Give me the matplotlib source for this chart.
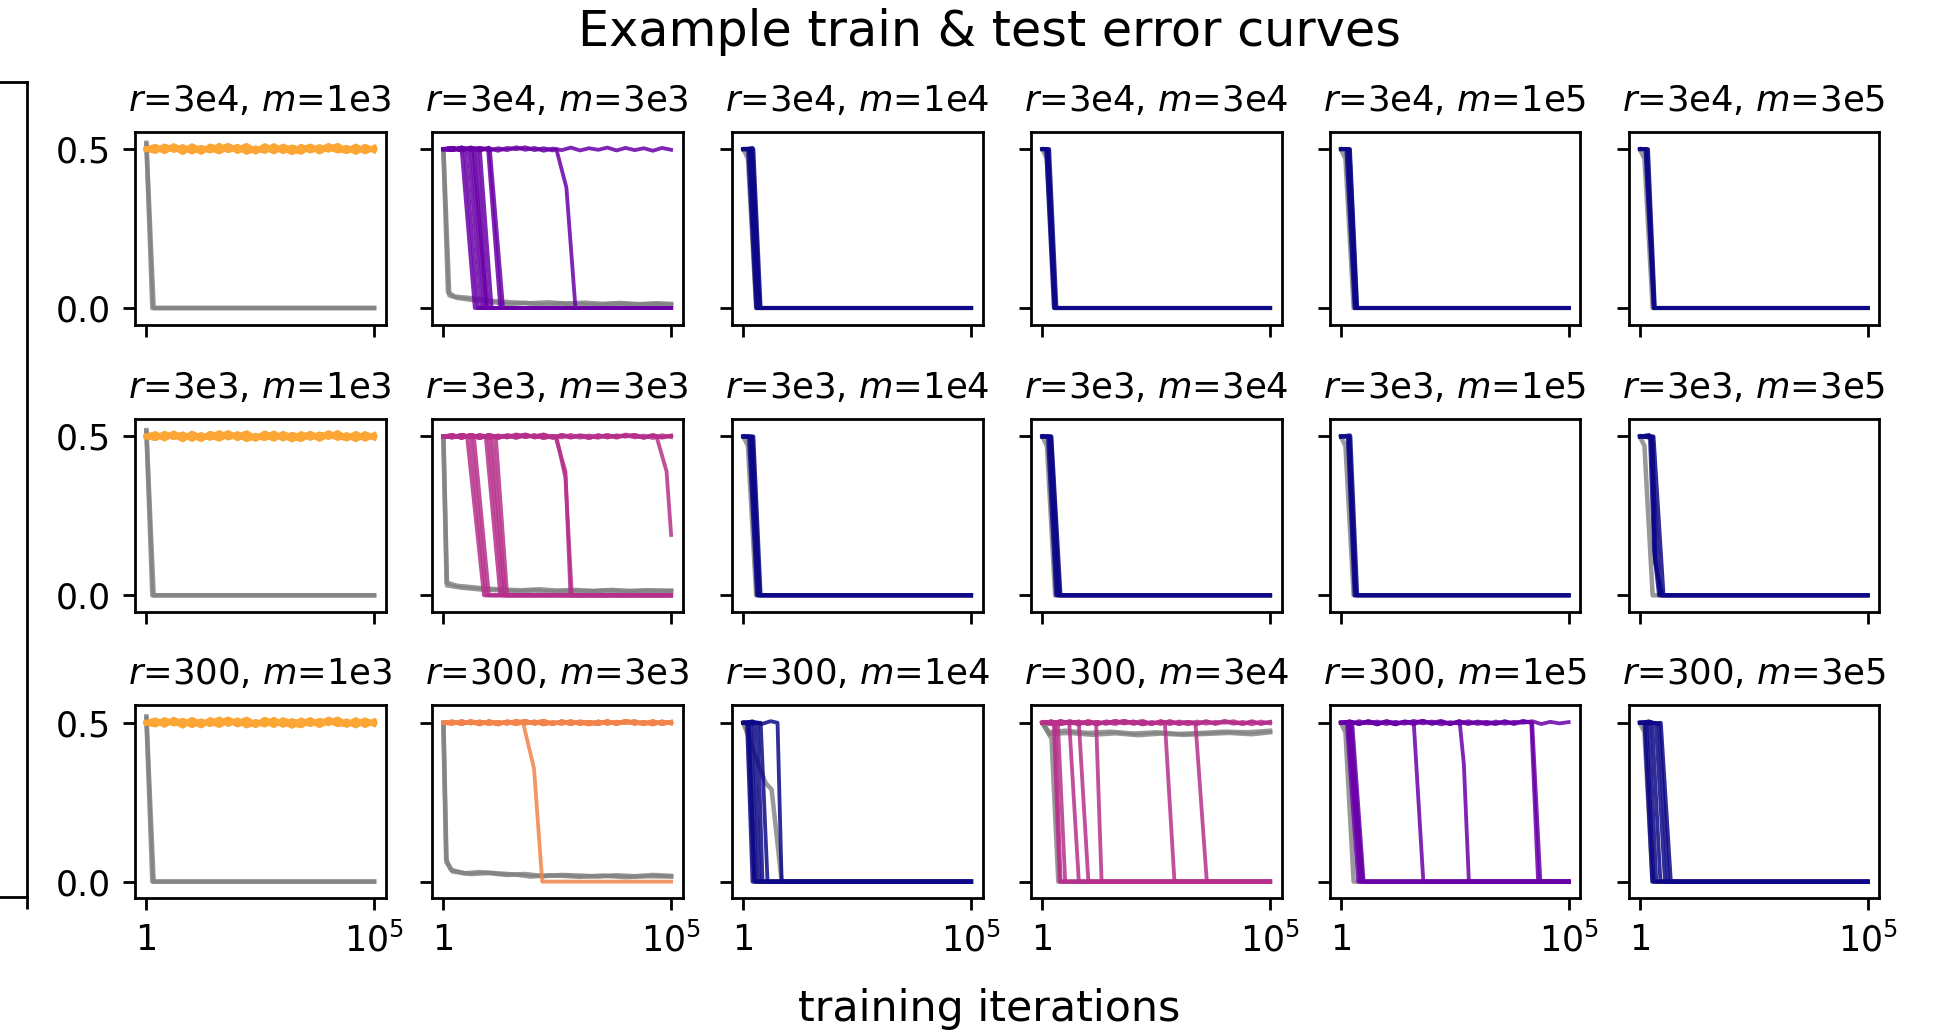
import numpy as np
import matplotlib.pyplot as plt

# run grid: rows are r, columns are m
r_labels = ["3e4", "3e3", "300"]
m_labels = ["1e3", "3e3", "1e4", "3e4", "1e5", "3e5"]

# position of each panel on the plasma colormap
colour_r3e4 = [0.80, 0.20, 0.00, 0.00, 0.00, 0.00]
colour_r3e3 = [0.80, 0.42, 0.00, 0.00, 0.00, 0.00]
colour_r300 = [0.80, 0.70, 0.00, 0.42, 0.20, 0.00]

# checkpoints (log10 of iteration) and test error of runs sitting at chance
ckpt = [0.0, 0.2, 0.4, 0.6, 0.8, 1.0, 1.2, 1.4, 1.6, 1.8, 2.0, 2.2, 2.4,
        2.6, 2.8, 3.0, 3.2, 3.4, 3.6, 3.8, 4.0, 4.2, 4.4, 4.6, 4.8, 5.0]
# small test sets (m=1e3) are noisier
chance_m1e3_a = [0.500, 0.508, 0.493, 0.510, 0.496, 0.506, 0.491, 0.509, 0.499,
                 0.511, 0.494, 0.505, 0.492, 0.510, 0.497, 0.504, 0.490, 0.508,
                 0.495, 0.507, 0.498, 0.511, 0.493, 0.506, 0.496, 0.503]
chance_m1e3_b = [0.500, 0.494, 0.509, 0.497, 0.507, 0.492, 0.505, 0.495, 0.511,
                 0.496, 0.508, 0.491, 0.503, 0.494, 0.510, 0.493, 0.506, 0.497,
                 0.509, 0.492, 0.507, 0.495, 0.505, 0.491, 0.508, 0.496]
chance_m1e3_c = [0.500, 0.503, 0.497, 0.506, 0.490, 0.510, 0.496, 0.503, 0.492,
                 0.508, 0.499, 0.511, 0.494, 0.505, 0.492, 0.509, 0.498, 0.491,
                 0.508, 0.496, 0.511, 0.499, 0.494, 0.509, 0.492, 0.505]
chance_a = [0.500, 0.504, 0.496, 0.505, 0.498, 0.503, 0.495, 0.504, 0.500,
            0.506, 0.497, 0.503, 0.496, 0.505, 0.498, 0.502, 0.495, 0.504,
            0.497, 0.503, 0.500, 0.505, 0.496, 0.503, 0.498, 0.502]
chance_b = [0.500, 0.497, 0.505, 0.498, 0.504, 0.496, 0.503, 0.497, 0.506,
            0.498, 0.504, 0.495, 0.502, 0.497, 0.505, 0.496, 0.503, 0.498,
            0.505, 0.496, 0.504, 0.497, 0.503, 0.495, 0.504, 0.498]
chance_c = [0.500, 0.501, 0.498, 0.503, 0.495, 0.505, 0.498, 0.502, 0.496,
            0.504, 0.500, 0.506, 0.497, 0.503, 0.496, 0.504, 0.500, 0.496,
            0.504, 0.498, 0.506, 0.500, 0.497, 0.505, 0.496, 0.503]
chance_m1e3 = [chance_m1e3_a, chance_m1e3_b, chance_m1e3_c]
chance_other = [chance_a, chance_b, chance_c]

# test runs: None = never leaves chance, (start, end) = log10 iters of the
# drop from 0.5 to 0, or explicit (log10 iter, error) vertices
stuck8 = [None, None, None, None, None, None, None, None]
drops_r3e4 = [
    stuck8,
    [(0.40, 0.69), (0.47, 0.76), (0.55, 0.84), (0.62, 0.91), (0.66, 0.95),
     (0.73, 0.98), (0.80, 1.06), (0.98, 1.25), (1.02, 1.31),
     ((2.48, 0.5), (2.70, 0.38), (2.90, 0.0)), None],
    [(0.10, 0.28), (0.13, 0.30), (0.15, 0.32), (0.17, 0.33), (0.19, 0.35),
     (0.20, 0.36), (0.22, 0.38)],
    [(0.08, 0.25), (0.10, 0.27), (0.12, 0.28), (0.13, 0.29), (0.15, 0.31)],
    [(0.12, 0.30), (0.15, 0.32), (0.17, 0.33), (0.19, 0.35), (0.20, 0.36)],
    [(0.12, 0.30), (0.14, 0.31), (0.16, 0.32), (0.18, 0.33)],
]
drops_r3e3 = [
    stuck8,
    [(0.52, 0.89), (0.60, 0.94), (0.67, 1.00), (0.93, 1.25), (1.00, 1.31),
     (1.07, 1.35), (1.15, 1.40),
     ((2.46, 0.5), (2.68, 0.39), (2.79, 0.0)),
     ((2.48, 0.5), (2.68, 0.37), (2.82, 0.0)),
     ((4.68, 0.5), (4.90, 0.39), (5.00, 0.19)), None, None, None],
    [(0.12, 0.30), (0.15, 0.32), (0.18, 0.34), (0.20, 0.36), (0.22, 0.38)],
    [(0.12, 0.30), (0.15, 0.33), (0.17, 0.35), (0.19, 0.38), (0.20, 0.40)],
    [(0.15, 0.30), (0.17, 0.32), (0.19, 0.34), (0.21, 0.36)],
    [((0.22, 0.5), (0.31, 0.14), (0.42, 0.0)),
     ((0.25, 0.5), (0.33, 0.12), (0.46, 0.0)),
     ((0.28, 0.5), (0.34, 0.10), (0.50, 0.0)), (0.24, 0.44), (0.30, 0.52)],
]
drops_r300 = [
    stuck8,
    [((1.75, 0.5), (1.99, 0.356), (2.17, 0.0)),
     None, None, None, None, None, None, None, None, None],
    [(0.08, 0.20), (0.12, 0.24), (0.16, 0.28), (0.23, 0.35), (0.31, 0.42),
     (0.38, 0.53), (0.75, 0.84)],
    [(0.25, 0.38), (0.28, 0.40), (0.34, 0.50), (0.59, 0.80), (0.80, 1.01),
     (1.18, 1.30), (2.69, 2.90), (3.36, 3.61), None, None, None],
    [(0.13, 0.38), (0.16, 0.42), (0.19, 0.45), (0.22, 0.48), (0.25, 0.50),
     (1.60, 1.81), ((2.61, 0.5), (2.70, 0.37), (2.81, 0.0)),
     (4.18, 4.33), (4.20, 4.38), None],
    [(0.10, 0.27), (0.14, 0.30), (0.20, 0.36), (0.27, 0.45), (0.35, 0.55),
     (0.42, 0.62), (0.46, 0.68)],
]

# train error, (log10 iter, error) vertices
train_memorise = [[(0.0, 0.515), (0.13, 0.0), (5.0, 0.0)],
                  [(0.0, 0.52), (0.16, 0.0), (5.0, 0.0)]]
train_fast = [[(0.0, 0.50), (0.10, 0.47), (0.28, 0.0), (5.0, 0.0)]]
train_r3e4_m3e3 = [
    [(0.0, 0.50), (0.13, 0.04), (0.3, 0.032), (0.6, 0.026), (1.0, 0.02),
     (1.4, 0.012), (1.8, 0.016), (2.2, 0.010), (2.6, 0.014), (3.0, 0.012),
     (3.4, 0.010), (3.8, 0.014), (4.2, 0.011), (4.6, 0.013), (5.0, 0.010)],
    [(0.0, 0.50), (0.10, 0.05), (0.25, 0.036), (0.7, 0.030), (1.1, 0.022),
     (1.5, 0.018), (1.9, 0.015), (2.3, 0.018), (2.7, 0.014), (3.1, 0.017),
     (3.5, 0.013), (3.9, 0.016), (4.3, 0.012), (4.7, 0.015), (5.0, 0.013)],
]
train_r3e3_m3e3 = [
    [(0.0, 0.50), (0.08, 0.031), (0.4, 0.024), (0.85, 0.018), (1.2, 0.016),
     (1.6, 0.012), (2.0, 0.015), (2.4, 0.011), (2.8, 0.014), (3.2, 0.012),
     (3.6, 0.015), (4.0, 0.011), (4.4, 0.014), (4.8, 0.012), (5.0, 0.013)],
    [(0.0, 0.50), (0.07, 0.04), (0.3, 0.030), (0.9, 0.022), (1.3, 0.018),
     (1.7, 0.016), (2.1, 0.019), (2.5, 0.015), (2.9, 0.017), (3.3, 0.014),
     (3.7, 0.017), (4.1, 0.014), (4.5, 0.016), (5.0, 0.015)],
]
train_r300_m3e3 = [
    [(0.0, 0.50), (0.06, 0.07), (0.17, 0.037), (0.46, 0.026), (0.8, 0.03),
     (1.2, 0.026), (1.6, 0.022), (1.92, 0.016), (2.3, 0.020), (2.65, 0.018),
     (3.0, 0.015), (3.5, 0.019), (4.0, 0.014), (4.5, 0.017), (5.0, 0.016)],
    [(0.0, 0.50), (0.07, 0.06), (0.2, 0.032), (0.6, 0.024), (1.0, 0.027),
     (1.4, 0.021), (1.8, 0.024), (2.2, 0.017), (2.6, 0.021), (3.0, 0.019),
     (3.4, 0.016), (3.8, 0.020), (4.2, 0.017), (4.6, 0.021), (5.0, 0.018)],
]
train_r300_m1e4 = [[(0.0, 0.50), (0.25, 0.40), (0.49, 0.31), (0.62, 0.29),
                    (0.84, 0.0), (5.0, 0.0)],
                   [(0.0, 0.50), (0.10, 0.47), (0.25, 0.0), (5.0, 0.0)]]
train_r300_m3e4 = [
    [(0.0, 0.50), (0.15, 0.470), (0.5, 0.475), (1.0, 0.468), (1.5, 0.472),
     (2.0, 0.466), (2.5, 0.470), (3.0, 0.465), (3.5, 0.468), (4.0, 0.472),
     (4.5, 0.470), (5.0, 0.475)],
    [(0.0, 0.50), (0.15, 0.465), (0.6, 0.468), (1.1, 0.462), (1.6, 0.467),
     (2.1, 0.461), (2.6, 0.466), (3.1, 0.462), (3.6, 0.465), (4.1, 0.468),
     (4.6, 0.464), (5.0, 0.470)],
    [(0.0, 0.50), (0.20, 0.45), (0.35, 0.0), (5.0, 0.0)],
]
train_r3e4 = [train_memorise, train_r3e4_m3e3, train_fast, train_fast,
              train_fast, train_fast]
train_r3e3 = [train_memorise, train_r3e3_m3e3, train_fast, train_fast,
              train_fast, train_fast]
train_r300 = [train_memorise, train_r300_m3e3, train_r300_m1e4,
              train_r300_m3e4, train_fast, train_fast]

drops_all = [drops_r3e4, drops_r3e3, drops_r300]
train_all = [train_r3e4, train_r3e3, train_r300]
colour_all = [colour_r3e4, colour_r3e3, colour_r300]


def test_curve(drop, trace):
    if drop is None:
        return ckpt, trace
    if isinstance(drop[0], tuple):
        verts = list(drop)
    else:
        verts = [(drop[0], 0.5), (drop[1], 0.0)]
    xs = [c for c in ckpt if c < verts[0][0]]
    ys = trace[:len(xs)]
    xs = xs + [v[0] for v in verts]
    ys = ys + [v[1] for v in verts]
    if verts[-1][1] == 0.0:
        xs.append(5.0)
        ys.append(0.0)
    return xs, ys


W, H = 1942, 1031
fig = plt.figure(figsize=(W / 250, H / 250), dpi=250)
cmap = plt.get_cmap('plasma')

col_left = [135, 432, 732, 1031, 1329.5, 1628.5]
row_top = [131.7, 419, 705.3]
ax_w, ax_h = 250.5, 193

for i in range(3):
    for j in range(6):
        ax = fig.add_axes([col_left[j] / W, 1 - (row_top[i] + ax_h) / H,
                           ax_w / W, ax_h / H])
        colour = cmap(colour_all[i][j])
        traces = chance_m1e3 if j == 0 else chance_other
        test_lw = 1.5 if j == 0 else 1.1
        for g in train_all[i][j]:
            ax.plot([10 ** p[0] for p in g], [p[1] for p in g],
                    color='gray', lw=1.3, alpha=0.8)
        for k, d in enumerate(drops_all[i][j]):
            xs, ys = test_curve(d, traces[k % 3])
            ax.plot(10 ** np.array(xs), ys, color=colour, lw=test_lw,
                    alpha=0.85)
        ax.set_xscale('log')
        ax.set_xlim(10 ** -0.25, 10 ** 5.25)
        ax.set_ylim(-0.0525, 0.555)
        ax.set_xticks([1, 1e5])
        ax.minorticks_off()
        ax.set_yticks([0.0, 0.5])
        if i == 2:
            ax.set_xticklabels(['1', '$10^5$'])
        else:
            ax.set_xticklabels([])
        if j == 0:
            ax.set_yticklabels(['0.0', '0.5'])
        else:
            ax.set_yticklabels([])
        ax.set_title(f'$r$={r_labels[i]}, $m$={m_labels[j]}', fontsize=10.2)

# edge of the neighbouring panel
side = fig.add_axes([-0.3, 1 - 897 / H, 0.3 + 26.7 / W, (897 - 81.7) / H])
side.set_xlim(0, 1)
side.set_xticks([1])
side.set_xticklabels([])
side.set_yticks([])

fig.text(989 / W, 1 - 32 / H, 'Example train & test error curves',
         ha='center', va='center', fontsize=14.2)
fig.text(989 / W, 1 - 1009 / H, 'training iterations',
         ha='center', va='center', fontsize=12.3)

fig.savefig('out.png', dpi=250)
